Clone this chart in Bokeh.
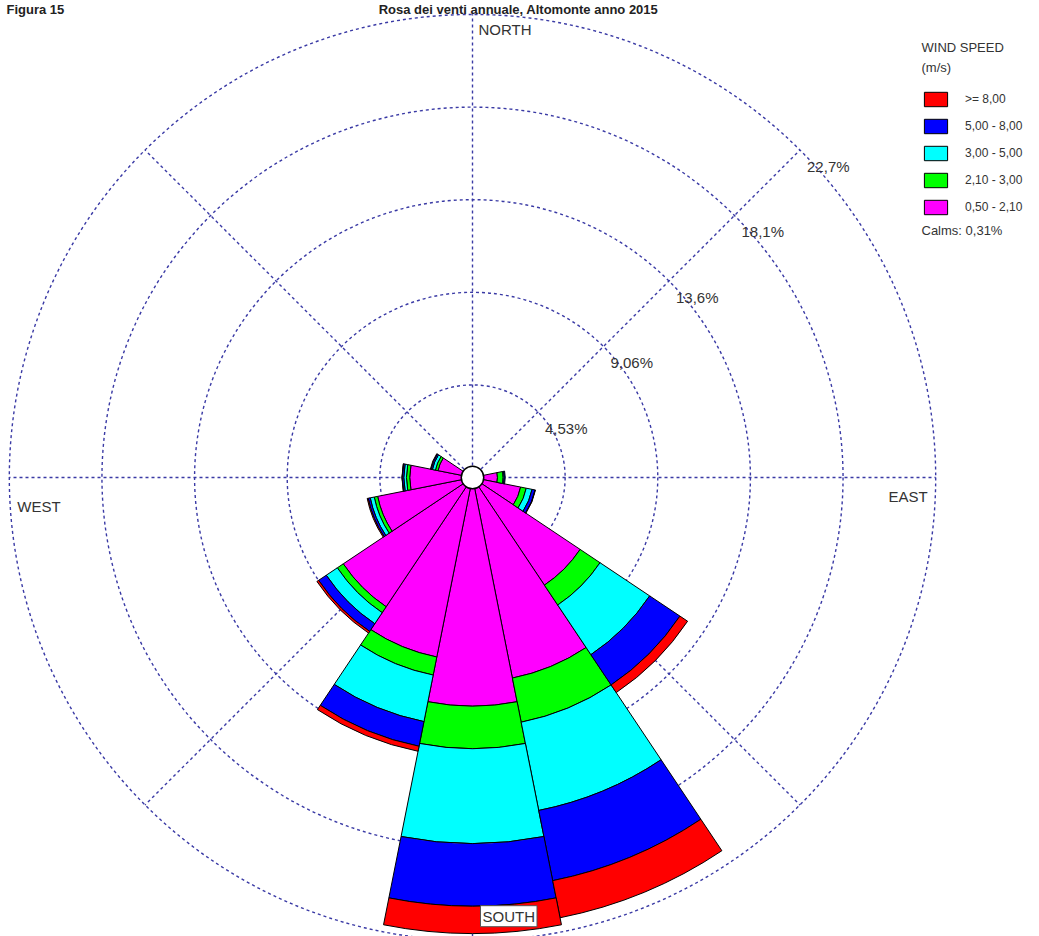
import numpy as np
from bokeh.plotting import figure
from bokeh.models import Range1d, Label, Legend, LegendItem, ColumnDataSource
from bokeh.core.properties import value
from bokeh.embed import file_html
from bokeh.resources import INLINE

# ---------------- data ----------------
directions = ["N", "NNE", "NE", "ENE", "E", "ESE", "SE", "SSE",
              "S", "SSW", "SW", "WSW", "W", "WNW", "NW", "NNW"]
speed_classes = ["0,50 - 2,10", "2,10 - 3,00", "3,00 - 5,00", "5,00 - 8,00", ">= 8,00"]
class_colors = ["#FF00FF", "#00FF00", "#00FFFF", "#0000FF", "#FF0000"]

# frequency (%) per direction for each wind-speed class
freq_050_210 = [0.35, 0.30, 0.40, 0.45, 1.22, 2.40, 6.33, 10.00, 11.18, 8.95, 7.60, 4.73, 3.07, 1.72, 0.45, 0.40]
freq_210_300 = [0.00, 0.00, 0.00, 0.00, 0.28, 0.28, 1.17, 2.20, 2.08, 0.90, 0.35, 0.17, 0.16, 0.13, 0.00, 0.00]
freq_300_500 = [0.00, 0.00, 0.00, 0.00, 0.05, 0.29, 2.92, 4.40, 4.64, 2.32, 0.65, 0.20, 0.13, 0.15, 0.00, 0.00]
freq_500_800 = [0.00, 0.00, 0.00, 0.00, 0.05, 0.15, 1.78, 3.50, 3.06, 1.23, 0.45, 0.10, 0.08, 0.07, 0.00, 0.00]
freq_ge_800 = [0.00, 0.00, 0.00, 0.00, 0.00, 0.02, 0.45, 1.85, 1.34, 0.25, 0.10, 0.05, 0.01, 0.03, 0.00, 0.00]
calms_pct = 0.31

ring_values = [4.53, 9.06, 13.59, 18.12, 22.65]
ring_labels = ["4,53%", "9,06%", "13,6%", "18,1%", "22,7%"]
compass_labels = ["NORTH", "EAST", "SOUTH", "WEST"]
title_left = "Figura 15"
title_main = "Rosa dei venti annuale, Altomonte anno 2015"

# ---------------- layout ----------------
W, H = 1039, 936
cx, cy = 472, 477          # pixel position of rose centre
k = 20.45                  # pixels per percent
FONT = "Liberation Sans"
GRID = "#3A3AA5"
TXT = "#333333"

p = figure(width=W, height=H,
           x_range=Range1d(-cx / k, (W - cx) / k),
           y_range=Range1d(-(H - cy) / k, cy / k),
           output_backend="svg", toolbar_location=None,
           x_axis_location=None, y_axis_location=None,
           min_border=0, outline_line_color=None,
           background_fill_color="white", border_fill_color="white")
p.grid.grid_line_color = None

R = ring_values[-1]

# grid rings
p.circle(x=[0] * len(ring_values), y=[0] * len(ring_values), radius=ring_values,
         fill_color=None, line_color=GRID, line_width=1.4, line_dash="3 3")

# radial grid lines every 45 degrees
ang = np.deg2rad(np.arange(0, 360, 45))
p.segment(x0=0, y0=0, x1=R * np.cos(ang), y1=R * np.sin(ang),
          line_color=GRID, line_width=1.4, line_dash="3 3")

# petals
dir_deg = np.arange(len(directions)) * 360.0 / len(directions)
half = 360.0 / len(directions) / 2.0
start = np.deg2rad(90 - dir_deg - half)
end = np.deg2rad(90 - dir_deg + half)

bands = np.array([freq_050_210, freq_210_300, freq_300_500, freq_500_800, freq_ge_800])
cum = np.cumsum(bands, axis=0)
renderers = []
for i in range(len(speed_classes)):
    inner = cum[i - 1] if i > 0 else np.zeros(len(directions))
    outer = cum[i]
    m = outer - inner > 0
    src = ColumnDataSource(dict(inner=inner[m], outer=outer[m], start=start[m], end=end[m]))
    r = p.annular_wedge(x=0, y=0, inner_radius="inner", outer_radius="outer",
                        start_angle="start", end_angle="end", source=src,
                        fill_color=class_colors[i], line_color="black", line_width=1)
    renderers.append(r)

# calm circle
p.circle(x=[0], y=[0], radius=0.55, fill_color="white", line_color="black", line_width=1.5)

# ring labels along NE diagonal
d45 = np.deg2rad(45)
p.text(x=[v * np.cos(d45) for v in ring_values], y=[v * np.sin(d45) for v in ring_values],
       text=ring_labels, x_offset=7, y_offset=8,
       text_align="left", text_baseline="top",
       text_font=value(FONT), text_font_size="15px", text_color=TXT)

# compass labels
lab_kw = dict(text_font=FONT, text_font_size="15px", text_color=TXT)
p.add_layout(Label(x=0, y=R, text=compass_labels[0], x_offset=6, y_offset=-7,
                   text_align="left", text_baseline="top",
                   background_fill_color="white", **lab_kw))
p.add_layout(Label(x=R, y=0, text=compass_labels[1], x_offset=-8, y_offset=-10,
                   text_align="right", text_baseline="top", **lab_kw))
p.add_layout(Label(x=0, y=-R, text=compass_labels[2], x_offset=8, y_offset=14,
                   text_align="left", text_baseline="bottom",
                   background_fill_color="white", border_line_color="#555555",
                   padding=2, **lab_kw))
p.add_layout(Label(x=-R, y=0, text=compass_labels[3], x_offset=8, y_offset=-20,
                   text_align="left", text_baseline="top", **lab_kw))

# legend
items = [LegendItem(label=speed_classes[i], renderers=[renderers[i]])
         for i in reversed(range(len(speed_classes)))]
legend = Legend(items=items, location=(921, 720), padding=0, margin=0, spacing=9,
                glyph_width=29, glyph_height=18, label_height=18, label_standoff=15,
                label_text_font=FONT, label_text_font_size="12px", label_text_color=TXT,
                border_line_color=None, background_fill_alpha=0)
p.add_layout(legend)

sl = dict(x_units="screen", y_units="screen", text_font=FONT, text_color=TXT,
          text_align="left", text_baseline="top")
p.add_layout(Label(x=921, y=H - 39, text="WIND SPEED", text_font_size="13px", **sl))
p.add_layout(Label(x=921, y=H - 59, text="(m/s)", text_font_size="13px", **sl))
p.add_layout(Label(x=921, y=H - 222, text="Calms: " + f"{calms_pct:.2f}".replace(".", ",") + "%",
                   text_font_size="13px", **sl))

# title along the top edge
tl = dict(x_units="screen", y_units="screen", text_font=FONT, text_color="#222222",
          text_font_style="bold", text_font_size="13px", text_baseline="top")
p.add_layout(Label(x=6, y=H - 1, text=title_left, text_align="left", **tl))
p.add_layout(Label(x=518, y=H - 1, text=title_main, text_align="center", **tl))

open("out.html", "w").write(file_html(p, INLINE))
